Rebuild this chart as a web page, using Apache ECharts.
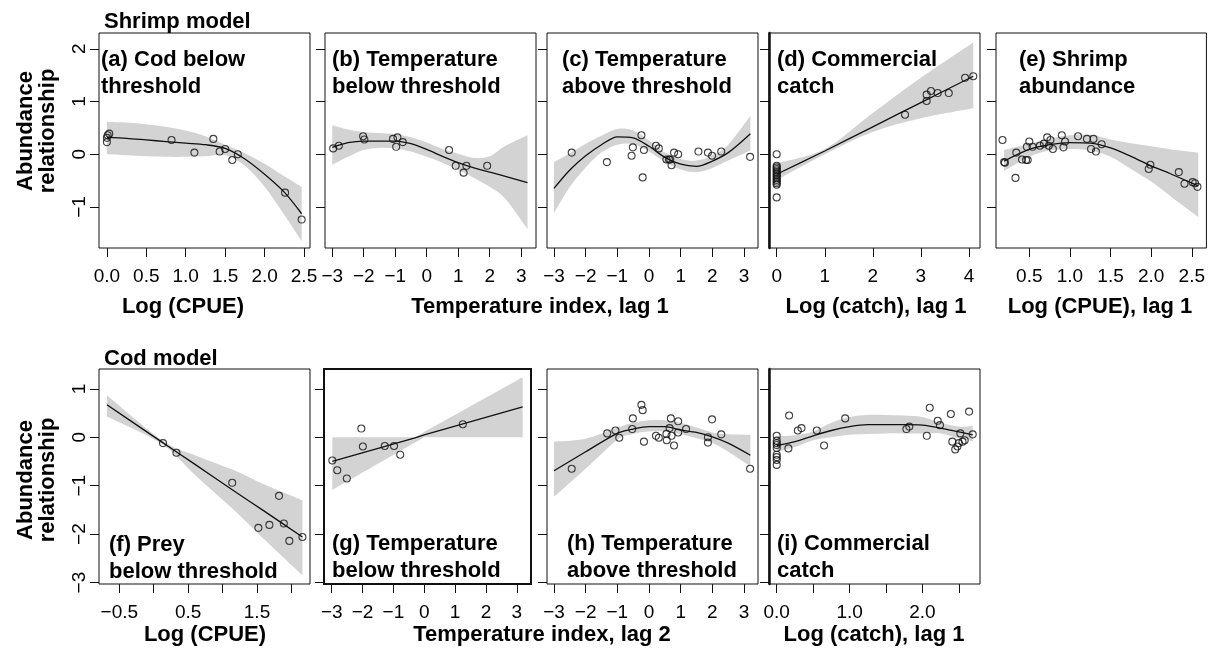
<!DOCTYPE html>
<html>
<head>
<meta charset="utf-8">
<title>Abundance relationships</title>
<script src="https://cdn.jsdelivr.net/npm/echarts@6.0.0/dist/echarts.min.js"></script>
<style>
  html, body { margin: 0; padding: 0; background: #fff; }
  #chart { width: 1208px; height: 652px; }
</style>
</head>
<body>
<div id="chart"></div>
<script>
const FONT = '"Liberation Sans", Arial, Helvetica, sans-serif';

// tick positions / labels
const yTicksTop = [-1, 0, 1, 2];
const yTicksBottom = [-3, -2, -1, 0, 1];
const ticksCpue = [0, 0.5, 1, 1.5, 2, 2.5];
const ticksTemp = [-3, -2, -1, 0, 1, 2, 3];
const ticksCatch = [0, 1, 2, 3, 4];
const ticksShrimp = [0.5, 1, 1.5, 2, 2.5];
const ticksPrey = [-0.5, 0, 0.5, 1, 1.5, 2];
const labelsPrey = [-0.5, 0.5, 1.5];
const ticksCatch2 = [0, 0.5, 1, 1.5, 2, 2.5];
const labelsCatch2 = [0, 1, 2];

// (a) Cod below threshold
const aX = [0, 0.25, 0.5, 0.75, 1.0, 1.25, 1.5, 1.75, 2.0, 2.25, 2.47];
const aFit = [0.32, 0.30, 0.27, 0.24, 0.21, 0.18, 0.11, -0.09, -0.38, -0.72, -1.13];
const aUp = [0.61, 0.60, 0.57, 0.52, 0.45, 0.34, 0.18, 0.02, -0.18, -0.42, -0.62];
const aLo = [0.0, -0.02, -0.04, -0.05, -0.05, -0.04, -0.02, -0.22, -0.62, -1.15, -1.65];
const aPts = [[0.0, 0.23], [0.0, 0.31], [0.01, 0.36], [0.03, 0.39], [0.82, 0.27], [1.11, 0.03],
  [1.35, 0.29], [1.43, 0.05], [1.50, 0.10], [1.59, -0.11], [1.66, 0.0], [2.26, -0.73], [2.47, -1.24]];

// (b) Temperature below threshold
const bX = [-3, -2.5, -2, -1.5, -1, -0.5, 0, 0.5, 1, 1.5, 2, 2.5, 3.2];
const bFit = [0.13, 0.22, 0.25, 0.25, 0.25, 0.20, 0.09, -0.04, -0.16, -0.26, -0.34, -0.42, -0.54];
const bUp = [0.55, 0.47, 0.42, 0.40, 0.38, 0.32, 0.22, 0.10, 0.01, -0.07, -0.04, 0.16, 0.36];
const bLo = [-0.20, -0.05, 0.08, 0.12, 0.11, 0.05, -0.05, -0.16, -0.30, -0.45, -0.62, -0.85, -1.42];
const bPts = [[-2.97, 0.11], [-2.79, 0.16], [-2.02, 0.34], [-1.98, 0.28], [-1.07, 0.29], [-0.93, 0.32],
  [-0.97, 0.14], [-0.76, 0.23], [0.71, 0.08], [0.92, -0.22], [1.17, -0.35], [1.26, -0.22], [1.92, -0.22]];

// (c) Temperature above threshold
const cX = [-3, -2.5, -2, -1.5, -1, -0.5, 0, 0.5, 1, 1.5, 2, 2.5, 3.2];
const cFit = [-0.65, -0.30, -0.03, 0.18, 0.33, 0.31, 0.15, -0.06, -0.19, -0.23, -0.13, 0.03, 0.39];
const cUp = [-0.15, 0.02, 0.20, 0.35, 0.48, 0.45, 0.26, 0.03, -0.09, -0.12, -0.02, 0.18, 0.73];
const cLo = [-1.12, -0.62, -0.25, 0.03, 0.18, 0.19, 0.05, -0.15, -0.29, -0.34, -0.26, -0.12, 0.07];
const cPts = [[-2.44, 0.03], [-1.33, -0.15], [-0.55, -0.03], [-0.51, 0.13], [-0.24, 0.36], [-0.20, -0.44],
  [-0.16, 0.08], [0.22, 0.16], [0.31, 0.11], [0.55, -0.10], [0.63, -0.10], [0.67, -0.10], [0.71, -0.21],
  [0.79, 0.03], [0.92, 0.0], [1.56, 0.05], [1.86, 0.03], [1.99, -0.03], [2.28, 0.05], [3.19, -0.05]];

// (d) Commercial catch
const dX = [0, 1, 2, 3, 4.09];
const dFit = [-0.38, 0.06, 0.52, 0.98, 1.48];
const dUp = [-0.17, 0.10, 0.78, 1.45, 2.12];
const dLo = [-0.49, 0.0, 0.42, 0.68, 0.87];
const dPts = [[0, 0.0], [0, -0.82], [0, -0.22], [0, -0.25], [0, -0.28], [0, -0.31], [0, -0.34], [0, -0.37],
  [0, -0.40], [0, -0.43], [0, -0.46], [0, -0.49], [0, -0.52], [0, -0.55], [0, -0.58],
  [2.67, 0.75], [3.12, 1.01], [3.12, 1.13], [3.21, 1.20], [3.35, 1.16], [3.58, 1.16], [3.92, 1.45], [4.09, 1.48]];

// (e) Shrimp abundance
const eX = [0.19, 0.5, 0.75, 1.0, 1.25, 1.5, 1.75, 2.0, 2.25, 2.58];
const eFit = [-0.13, 0.09, 0.18, 0.22, 0.21, 0.12, -0.04, -0.22, -0.38, -0.60];
const eUp = [0.08, 0.20, 0.30, 0.36, 0.37, 0.28, 0.21, 0.15, 0.09, 0.03];
const eLo = [-0.32, -0.05, 0.07, 0.10, 0.07, -0.05, -0.28, -0.52, -0.81, -1.19];
const ePts = [[0.17, 0.27], [0.19, -0.15], [0.20, -0.16], [0.33, -0.45], [0.34, 0.03], [0.41, -0.10],
  [0.46, -0.11], [0.48, -0.11], [0.47, 0.14], [0.50, 0.24], [0.54, 0.14], [0.63, 0.16], [0.68, 0.20],
  [0.72, 0.32], [0.74, 0.16], [0.76, 0.27], [0.79, 0.10], [0.90, 0.36], [0.92, 0.13], [0.94, 0.24],
  [1.10, 0.34], [1.21, 0.29], [1.29, 0.29], [1.26, 0.10], [1.32, 0.05], [1.39, 0.19], [1.97, -0.28],
  [1.99, -0.20], [2.34, -0.34], [2.41, -0.56], [2.51, -0.53], [2.54, -0.55], [2.57, -0.62]];

// (f) Prey below threshold
const fX = [-0.68, 0.12, 0.6, 1.2, 1.6, 2.16];
const fFit = [0.67, -0.10, -0.56, -1.14, -1.52, -2.06];
const fUp = [0.87, -0.06, -0.37, -0.70, -0.97, -1.30];
const fLo = [0.43, -0.14, -0.78, -1.55, -2.10, -2.85];
const fPts = [[0.135, -0.12], [0.33, -0.32], [1.14, -0.94], [1.52, -1.87], [1.68, -1.81], [1.82, -1.21],
  [1.89, -1.78], [1.97, -2.14], [2.16, -2.06]];

// (g) Temperature below threshold
const gX = [-2.98, -0.3, 0.0, 3.19];
const gFit = [-0.50, -0.01, 0.05, 0.63];
const gUp = [0.0, 0.0, 0.11, 1.24];
const gLo = [-1.09, -0.11, 0.0, 0.0];
const gPts = [[-2.98, -0.48], [-2.82, -0.68], [-2.51, -0.85], [-2.04, 0.18], [-1.99, -0.19], [-1.28, -0.18],
  [-0.98, -0.18], [-0.78, -0.36], [1.25, 0.27]];

// (h) Temperature above threshold
const hX = [-3, -2, -1, -0.5, 0, 0.5, 1, 1.5, 2, 2.5, 3.2];
const hFit = [-0.69, -0.30, 0.08, 0.17, 0.22, 0.22, 0.15, 0.10, 0.01, -0.12, -0.37];
const hUp = [-0.09, -0.03, 0.20, 0.30, 0.35, 0.35, 0.30, 0.20, 0.10, 0.06, 0.05];
const hLo = [-1.23, -0.65, -0.05, 0.07, 0.12, 0.12, 0.06, -0.02, -0.12, -0.30, -0.60];
const hPts = [[-2.44, -0.65], [-1.32, 0.08], [-1.06, 0.14], [-0.94, -0.01], [-0.53, 0.17], [-0.51, 0.39],
  [-0.24, 0.67], [-0.20, 0.56], [-0.16, -0.09], [0.22, 0.03], [0.31, -0.01], [0.55, 0.07], [0.56, -0.06],
  [0.65, 0.19], [0.69, 0.39], [0.71, 0.03], [0.79, -0.17], [0.92, 0.10], [0.92, 0.33], [1.17, 0.17],
  [1.86, 0.0], [1.86, -0.11], [1.99, 0.37], [2.28, 0.06], [3.19, -0.65]];

// (i) Commercial catch
const iX = [0, 0.25, 0.5, 0.75, 1.0, 1.25, 1.5, 1.75, 2.0, 2.25, 2.5, 2.69];
const iFit = [-0.17, -0.09, 0.03, 0.14, 0.22, 0.26, 0.26, 0.26, 0.25, 0.19, 0.11, 0.05];
const iUp = [0.02, 0.04, 0.12, 0.30, 0.42, 0.46, 0.46, 0.45, 0.42, 0.30, 0.22, 0.24];
const iLo = [-0.30, -0.20, -0.06, 0.0, 0.05, 0.07, 0.08, 0.08, 0.08, 0.08, -0.02, -0.08];
const iPts = [[0, 0.03], [0, -0.07], [0, -0.12], [0, -0.16], [0, -0.22], [0, -0.36], [0, -0.41], [0, -0.47],
  [0, -0.57], [0.16, -0.23], [0.17, 0.45], [0.29, 0.14], [0.34, 0.19], [0.55, 0.14], [0.65, -0.17],
  [0.94, 0.39], [1.78, 0.17], [1.82, 0.22], [2.06, 0.03], [2.10, 0.61], [2.21, 0.34], [2.24, 0.25],
  [2.39, 0.48], [2.41, -0.09], [2.45, -0.25], [2.48, -0.19], [2.50, -0.12], [2.52, 0.08], [2.55, -0.09],
  [2.58, -0.06], [2.64, 0.53], [2.69, 0.06]];

const yTop = [-1.78, 2.30];
const yBottom = [-3.03, 1.41];

const panels = [
  { box: [99, 33, 211, 215], xr: [-0.10, 2.576], xt: ticksCpue, xl: ticksCpue, dec: 1, yr: yTop, yt: yTicksTop, yLab: true,
    x: aX, fit: aFit, up: aUp, lo: aLo, pts: aPts, sm: 0.3 },
  { box: [325, 33, 211, 215], xr: [-3.23, 3.47], xt: ticksTemp, xl: ticksTemp, dec: 0, yr: yTop, yt: yTicksTop,
    x: bX, fit: bFit, up: bUp, lo: bLo, pts: bPts, sm: 0.3 },
  { box: [547, 33, 211, 215], xr: [-3.22, 3.44], xt: ticksTemp, xl: ticksTemp, dec: 0, yr: yTop, yt: yTicksTop,
    x: cX, fit: cFit, up: cUp, lo: cLo, pts: cPts, sm: 0.3 },
  { box: [769, 33, 211, 215], xr: [-0.16, 4.23], xt: ticksCatch, xl: ticksCatch, dec: 0, yr: yTop, yt: yTicksTop, yLine: true,
    x: dX, fit: dFit, up: dUp, lo: dLo, pts: dPts, sm: 0.2 },
  { box: [996, 33, 211, 215], xr: [0.09, 2.68], xt: ticksShrimp, xl: ticksShrimp, dec: 1, yr: yTop, yt: yTicksTop,
    x: eX, fit: eFit, up: eUp, lo: eLo, pts: ePts, sm: 0.3 },
  { box: [99, 369, 211, 215], xr: [-0.795, 2.27], xt: ticksPrey, xl: labelsPrey, dec: 1, yr: yBottom, yt: yTicksBottom, yLab: true,
    x: fX, fit: fFit, up: fUp, lo: fLo, pts: fPts, sm: 0.15 },
  { box: [324, 369, 207, 215], xr: [-3.25, 3.46], xt: ticksTemp, xl: ticksTemp, dec: 0, yr: yBottom, yt: yTicksBottom, bw: 2,
    x: gX, fit: gFit, up: gUp, lo: gLo, pts: gPts, sm: 0 },
  { box: [547, 369, 211, 215], xr: [-3.22, 3.44], xt: ticksTemp, xl: ticksTemp, dec: 0, yr: yBottom, yt: yTicksBottom,
    x: hX, fit: hFit, up: hUp, lo: hLo, pts: hPts, sm: 0.3 },
  { box: [769, 369, 211, 215], xr: [-0.106, 2.79], xt: ticksCatch2, xl: labelsCatch2, dec: 1, yr: yBottom, yt: yTicksBottom, yLine: true,
    x: iX, fit: iFit, up: iUp, lo: iLo, pts: iPts, sm: 0.3 }
];

function fmt(v, dec) {
  return (dec ? v.toFixed(dec) : String(v)).replace('-', '\u2212');
}

// cubic segments through pixel points (catmull-rom, k = 0 gives straight lines)
function curve(pts, k) {
  let d = '';
  for (let n = 0; n < pts.length - 1; n++) {
    const p0 = pts[n - 1] || pts[n], p1 = pts[n], p2 = pts[n + 1], p3 = pts[n + 2] || pts[n + 1];
    const c1 = [p1[0] + (p2[0] - p0[0]) * k / 6, p1[1] + (p2[1] - p0[1]) * k / 6];
    const c2 = [p2[0] - (p3[0] - p1[0]) * k / 6, p2[1] - (p3[1] - p1[1]) * k / 6];
    d += ' C' + c1.join(' ') + ' ' + c2.join(' ') + ' ' + p2.join(' ');
  }
  return d;
}

const grid = [], xAxis = [], yAxis = [], series = [];
panels.forEach(function (p, i) {
  grid.push({
    left: p.box[0], top: p.box[1], width: p.box[2], height: p.box[3],
    show: true, borderColor: '#111', borderWidth: p.bw || 1, backgroundColor: 'transparent'
  });
  xAxis.push({
    type: 'value', gridIndex: i, min: p.xr[0], max: p.xr[1],
    splitLine: { show: false },
    axisLine: { show: false, onZero: false },
    axisTick: { show: true, length: 9, customValues: p.xt, lineStyle: { color: '#111' } },
    axisLabel: { customValues: p.xl, formatter: function (v) { return fmt(v, p.dec); },
      color: '#000', fontSize: 19, fontFamily: FONT, margin: 19 }
  });
  yAxis.push({
    type: 'value', gridIndex: i, min: p.yr[0], max: p.yr[1],
    splitLine: { show: false },
    axisLine: { show: !!p.yLine, onZero: false, lineStyle: { color: '#111', width: 2.5 } },
    axisTick: { show: true, length: 9, customValues: p.yt, lineStyle: { color: '#111' } },
    axisLabel: { show: !!p.yLab, customValues: p.yt, rotate: 90, formatter: function (v) { return fmt(v, 0); },
      color: '#000', fontSize: 19, fontFamily: FONT, margin: 10 }
  });
  // grey confidence band
  series.push({
    type: 'custom', xAxisIndex: i, yAxisIndex: i, silent: true, z: 1,
    data: [[p.x[0], p.up[0]]],
    renderItem: function (params, api) {
      const k = p.sm > 0 ? 1 : 0;
      const up = p.x.map(function (x, n) { return api.coord([x, p.up[n]]); });
      const lo = p.x.map(function (x, n) { return api.coord([x, p.lo[n]]); }).reverse();
      const d = 'M' + up[0].join(' ') + curve(up, k) + ' L' + lo[0].join(' ') + curve(lo, k) + ' Z';
      return { type: 'path', shape: { pathData: d }, style: { fill: '#d3d3d3', stroke: null } };
    }
  });
  series.push({
    type: 'line', xAxisIndex: i, yAxisIndex: i,
    data: p.x.map(function (x, k) { return [x, p.fit[k]]; }),
    symbol: 'none', smooth: p.sm, lineStyle: { color: '#111', width: 1.3 }, silent: true, z: 3
  });
  series.push({
    type: 'scatter', xAxisIndex: i, yAxisIndex: i, data: p.pts,
    symbol: 'circle', symbolSize: 7,
    itemStyle: { color: 'rgba(0,0,0,0)', borderColor: '#111', borderWidth: 1.1 }, silent: true, z: 4
  });
});

function txt(x, y, s, opt) {
  opt = opt || {};
  return {
    type: 'text', x: x, y: y, rotation: opt.rot || 0, z: 10,
    style: {
      text: s, font: (opt.font || 'bold 22px ') + FONT, fill: '#000',
      align: opt.align || 'left', textAlign: opt.align || 'left',
      verticalAlign: opt.va || 'top', textVerticalAlign: opt.va || 'top',
      lineHeight: opt.lh || 27
    }
  };
}

const graphic = [
  txt(104, 8, 'Shrimp model'),
  txt(104, 345, 'Cod model'),
  txt(37, 131, 'Abundance\nrelationship', { rot: Math.PI / 2, align: 'center', va: 'middle', lh: 22 }),
  txt(37, 480, 'Abundance\nrelationship', { rot: Math.PI / 2, align: 'center', va: 'middle', lh: 22 }),
  txt(101, 46, '(a) Cod below\nthreshold'),
  txt(332, 46, '(b) Temperature\nbelow threshold'),
  txt(562, 46, '(c) Temperature\nabove threshold'),
  txt(777, 46, '(d) Commercial\ncatch'),
  txt(1019, 46, '(e) Shrimp\nabundance'),
  txt(109, 531, '(f) Prey\nbelow threshold'),
  txt(332, 530, '(g) Temperature\nbelow threshold'),
  txt(567, 530, '(h) Temperature\nabove threshold'),
  txt(777, 530, '(i) Commercial\ncatch'),
  txt(183, 307, 'Log (CPUE)', { align: 'center', va: 'middle' }),
  txt(540, 307, 'Temperature index, lag 1', { align: 'center', va: 'middle' }),
  txt(876, 307, 'Log (catch), lag 1', { align: 'center', va: 'middle' }),
  txt(1100, 307, 'Log (CPUE), lag 1', { align: 'center', va: 'middle' }),
  txt(205, 635, 'Log (CPUE)', { align: 'center', va: 'middle' }),
  txt(542, 635, 'Temperature index, lag 2', { align: 'center', va: 'middle' }),
  txt(874, 635, 'Log (catch), lag 1', { align: 'center', va: 'middle' })
];

const chart = echarts.init(document.getElementById('chart'), null, { renderer: 'canvas' });
chart.setOption({
  animation: false,
  backgroundColor: '#fff',
  grid: grid,
  xAxis: xAxis,
  yAxis: yAxis,
  series: series,
  graphic: graphic
});
</script>
</body>
</html>
